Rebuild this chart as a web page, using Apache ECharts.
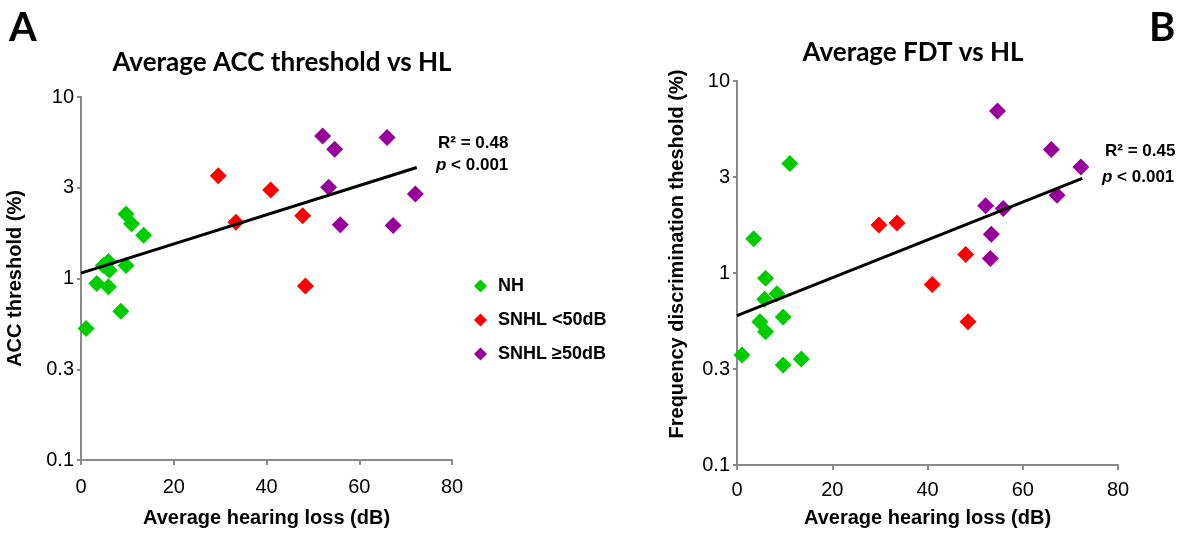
<!DOCTYPE html>
<html>
<head>
<meta charset="utf-8">
<title>ACC and FDT vs HL</title>
<script src="https://cdn.jsdelivr.net/npm/echarts@6/dist/echarts.min.js"></script>
<style>
  html, body { margin: 0; padding: 0; background: #fff; }
  #chart { width: 1196px; height: 533px; }
</style>
</head>
<body>
<div id="chart"></div>
<script>
// panel A: average hearing loss (dB) vs ACC threshold (%)
var accNH = [[1.1, 0.53], [3.4, 0.94], [5.9, 0.90], [4.8, 1.18], [5.9, 1.24], [6.1, 1.11],
  [9.7, 1.18], [8.6, 0.66], [9.7, 2.27], [10.9, 2.0], [13.5, 1.73]];
var accMild = [[29.6, 3.68], [33.4, 2.04], [40.9, 3.07], [47.8, 2.22], [48.4, 0.91]];
var accSevere = [[52.1, 6.09], [54.7, 5.15], [53.4, 3.18], [55.9, 1.98], [66.0, 5.99], [67.3, 1.96], [72.1, 2.92]];
var accTrend = [[0, 1.07], [72.4, 4.09]];

// panel B: average hearing loss (dB) vs frequency discrimination threshold (%)
var fdtNH = [[1.05, 0.374], [3.5, 1.51], [6.0, 0.94], [5.8, 0.73], [8.4, 0.78], [4.8, 0.557],
  [6.0, 0.494], [9.7, 0.59], [9.7, 0.332], [13.5, 0.356], [11.1, 3.72]];
var fdtMild = [[29.8, 1.78], [33.6, 1.82], [41.0, 0.87], [48.0, 1.25], [48.5, 0.557]];
var fdtSevere = [[54.7, 6.98], [52.2, 2.24], [55.9, 2.17], [53.4, 1.59], [53.2, 1.19], [66.0, 4.40], [67.2, 2.54], [72.2, 3.57]];
var fdtTrend = [[0, 0.60], [72.5, 3.11]];

var groupNames = ['NH', 'SNHL <50dB', 'SNHL ≥50dB'];
var groupColors = ['#00cc00', '#ff0000', '#990099'];

var chart = echarts.init(document.getElementById('chart'));

var axisGray = '#8a8a8a';
function xAxisFor(idx, gap, margin) {
  return {
    type: 'value', gridIndex: idx, min: 0, max: 80, interval: 20,
    name: 'Average hearing loss (dB)', nameLocation: 'middle', nameGap: gap,
    nameTextStyle: { fontFamily: 'Liberation Sans', fontWeight: 'bold', fontSize: 20, color: '#000' },
    axisLine: { lineStyle: { color: axisGray, width: 2 } },
    axisTick: { show: true, length: 5, lineStyle: { color: axisGray, width: 2 } },
    axisLabel: { fontFamily: 'Liberation Sans', fontSize: 20, color: '#000', margin: margin },
    splitLine: { show: false }
  };
}
function yAxisFor(idx, name, gap, pad) {
  return {
    type: 'log', logBase: 10, gridIndex: idx, min: 0.1, max: 10, interval: 0.5,
    name: name, nameLocation: 'middle', nameGap: gap,
    nameTextStyle: { fontFamily: 'Liberation Sans', fontWeight: 'bold', fontSize: 20, color: '#000', padding: pad },
    axisLine: { show: true, lineStyle: { color: axisGray, width: 2 } },
    axisTick: { show: true, length: 4, lineStyle: { color: axisGray, width: 2 } },
    axisLabel: {
      fontFamily: 'Liberation Sans', fontSize: 20, color: '#000', margin: 7,
      formatter: function (v) { return v < 1 ? v.toFixed(1) : String(Math.round(v)); }
    },
    splitLine: { show: false },
    minorTick: { show: false }
  };
}

function scatter(name, color, data, idx) {
  return {
    name: name, type: 'scatter', xAxisIndex: idx, yAxisIndex: idx,
    symbol: 'diamond', symbolSize: 17, data: data,
    itemStyle: { color: color, opacity: 1 }, z: 3
  };
}
function trend(data, idx) {
  return {
    type: 'line', xAxisIndex: idx, yAxisIndex: idx, data: data,
    showSymbol: false, silent: true, z: 4,
    lineStyle: { color: '#000', width: 3 }
  };
}

var option = {
  animation: false,
  grid: [
    { left: 81, top: 97, width: 371, height: 366 },
    { left: 737, top: 81, width: 381, height: 384 }
  ],
  xAxis: [xAxisFor(0, 48, 17), xAxisFor(1, 43, 15)],
  yAxis: [
    yAxisFor(0, 'ACC threshold (%)', 56, 0),
    yAxisFor(1, 'Frequency discrimination theshold (%)', 50, [0, 0, 0, 38])
  ],
  legend: {
    orient: 'vertical', left: 469, top: 272,
    icon: 'diamond', itemWidth: 13, itemHeight: 13, itemGap: 16,
    data: groupNames,
    textStyle: { fontFamily: 'Liberation Sans', fontWeight: 'bold', fontSize: 18, color: '#000', lineHeight: 13, padding: [0, 0, 0, 6] }
  },
  graphic: [
    { type: 'text', x: 9, y: 28, style: { text: 'A', font: 'bold 40px Lato', fill: '#000', verticalAlign: 'middle' } },
    { type: 'text', x: 1149, y: 28, style: { text: 'B', font: 'bold 40px Lato', fill: '#000', verticalAlign: 'middle' } },
    { type: 'text', x: 282, y: 63, style: { text: 'Average ACC threshold vs HL', font: 'bold 26px Lato', fill: '#000', align: 'center', verticalAlign: 'middle' } },
    { type: 'text', x: 913, y: 53, style: { text: 'Average FDT vs HL', font: 'bold 26px Lato', fill: '#000', align: 'center', verticalAlign: 'middle' } },
    { type: 'text', x: 438, y: 143, style: { text: 'R² = 0.48', font: 'bold 17px "Liberation Sans"', fill: '#000', verticalAlign: 'middle' } },
    { type: 'text', x: 436, y: 165, style: {
      text: '{i|p} < 0.001', verticalAlign: 'middle', font: 'bold 17px "Liberation Sans"', fill: '#000',
      rich: { i: { fontStyle: 'italic', fontWeight: 'bold', fontSize: 17, fontFamily: 'Liberation Sans' } } } },
    { type: 'text', x: 1105, y: 151, style: { text: 'R² = 0.45', font: 'bold 17px "Liberation Sans"', fill: '#000', verticalAlign: 'middle' } },
    { type: 'text', x: 1102, y: 177, style: {
      text: '{i|p} < 0.001', verticalAlign: 'middle', font: 'bold 17px "Liberation Sans"', fill: '#000',
      rich: { i: { fontStyle: 'italic', fontWeight: 'bold', fontSize: 17, fontFamily: 'Liberation Sans' } } } }
  ],
  series: [
    scatter(groupNames[0], groupColors[0], accNH, 0),
    scatter(groupNames[1], groupColors[1], accMild, 0),
    scatter(groupNames[2], groupColors[2], accSevere, 0),
    trend(accTrend, 0),
    scatter(groupNames[0], groupColors[0], fdtNH, 1),
    scatter(groupNames[1], groupColors[1], fdtMild, 1),
    scatter(groupNames[2], groupColors[2], fdtSevere, 1),
    trend(fdtTrend, 1)
  ]
};
chart.setOption(option);
</script>
</body>
</html>
